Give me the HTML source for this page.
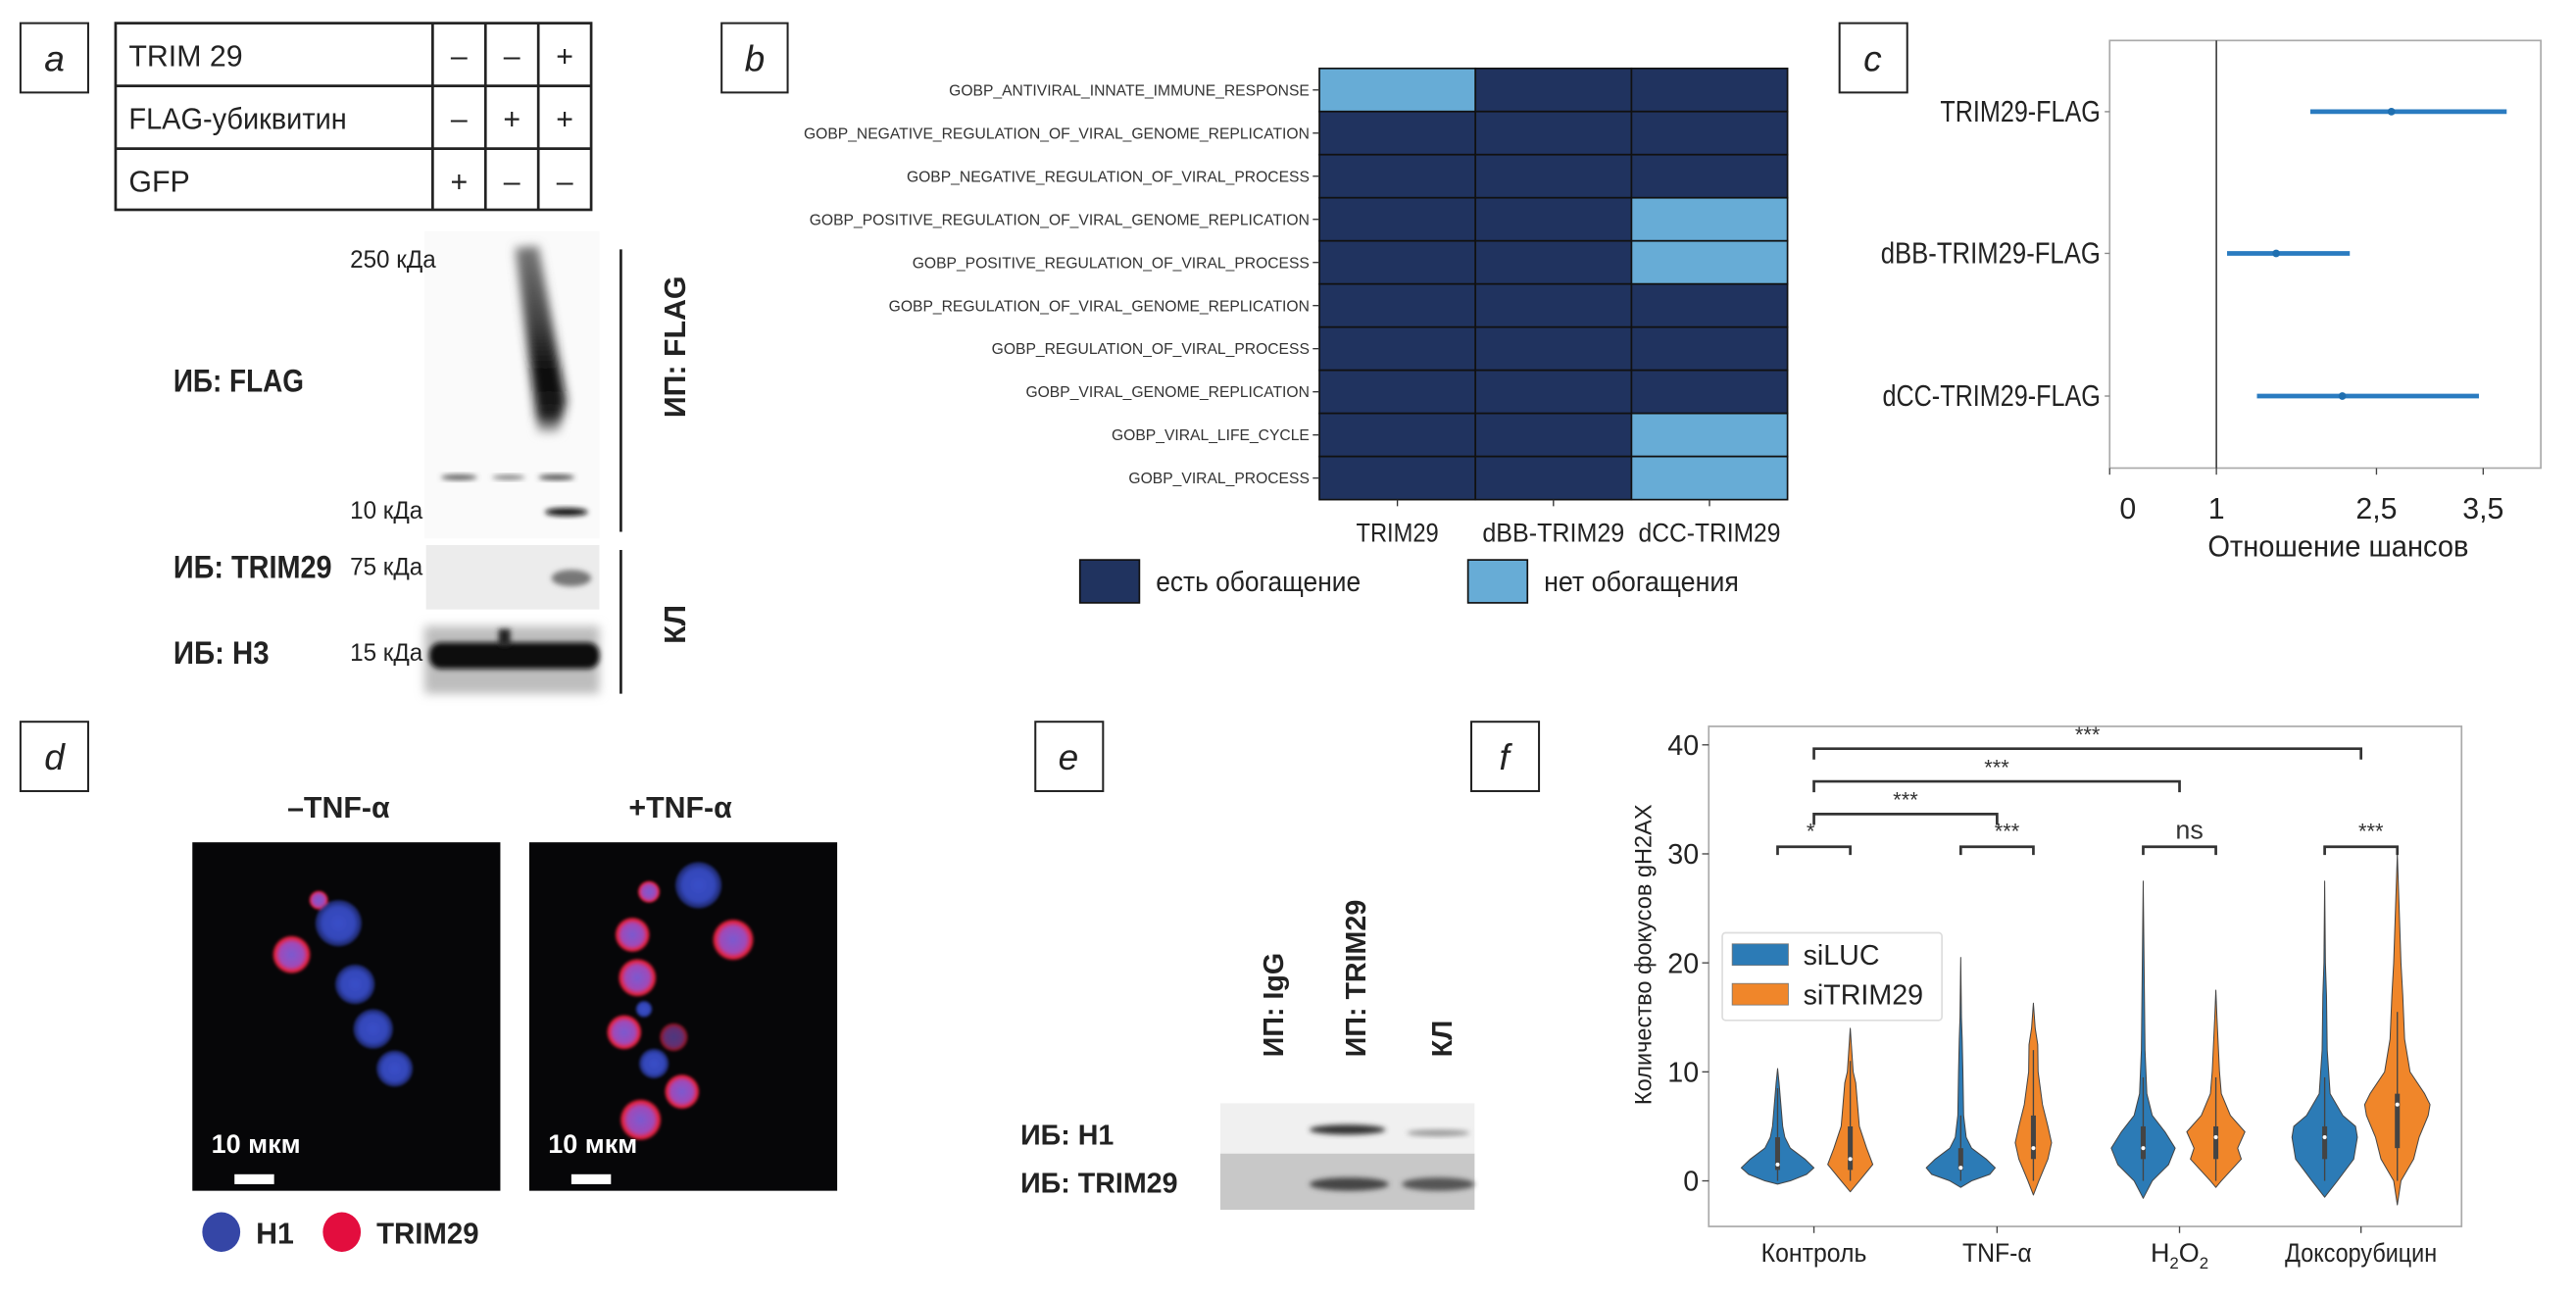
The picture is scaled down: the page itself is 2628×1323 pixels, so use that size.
<!DOCTYPE html>
<html><head><meta charset="utf-8"><style>
html,body{margin:0;padding:0;background:#fff;}
svg{display:block;font-family:"Liberation Sans","DejaVu Sans",sans-serif;}
.wide{font-family:"Liberation Sans","DejaVu Sans",sans-serif;}
</style></head><body>
<svg id="fig" width="2628" height="1323" viewBox="0 0 1560 785.3" xmlns="http://www.w3.org/2000/svg">
<defs>
<filter id="bl1" x="-50%" y="-50%" width="200%" height="200%"><feGaussianBlur stdDeviation="1.5"/></filter>
<filter id="bl2" x="-50%" y="-50%" width="200%" height="200%"><feGaussianBlur stdDeviation="3"/></filter>
<filter id="bl3" x="-50%" y="-50%" width="200%" height="200%"><feGaussianBlur stdDeviation="0.8"/></filter>
<radialGradient id="cellB"><stop offset="0" stop-color="#3a4fc8"/><stop offset="0.7" stop-color="#3346b8"/><stop offset="1" stop-color="#2a3aa0" stop-opacity="0.6"/></radialGradient>
<radialGradient id="cellR"><stop offset="0" stop-color="#7a5ad0"/><stop offset="0.6" stop-color="#a04ab8"/><stop offset="0.85" stop-color="#e8203a"/><stop offset="1" stop-color="#e8203a" stop-opacity="0"/></radialGradient>
<linearGradient id="smear" x1="0" y1="0" x2="0" y2="1"><stop offset="0" stop-color="#777"/><stop offset="0.4" stop-color="#444"/><stop offset="0.7" stop-color="#080808"/><stop offset="0.92" stop-color="#222"/><stop offset="1" stop-color="#ccc"/></linearGradient>
</defs>

<!-- Panel a -->
<g>
<rect x="12.4" y="14" width="41" height="42" fill="#fff" stroke="#222" stroke-width="1.2"/>
<text x="33" y="43" font-size="22" font-style="italic" text-anchor="middle" fill="#222">a</text>
<g stroke="#222" stroke-width="1.6" fill="none">
<rect x="70" y="14" width="288" height="113"/>
<line x1="70" y1="52" x2="358" y2="52"/><line x1="70" y1="90" x2="358" y2="90"/>
<line x1="262" y1="14" x2="262" y2="127"/><line x1="294" y1="14" x2="294" y2="127"/><line x1="326" y1="14" x2="326" y2="127"/>
</g>
<g font-size="18" fill="#222">
<text x="78" y="40">TRIM 29</text><text x="78" y="78" textLength="132" lengthAdjust="spacingAndGlyphs">FLAG-убиквитин</text><text x="78" y="116">GFP</text>
<g text-anchor="middle">
<text x="278" y="40">–</text><text x="310" y="40">–</text><text x="342" y="40">+</text>
<text x="278" y="78">–</text><text x="310" y="78">+</text><text x="342" y="78">+</text>
<text x="278" y="116">+</text><text x="310" y="116">–</text><text x="342" y="116">–</text>
</g></g>
<g>
<rect x="257" y="140" width="106" height="186" fill="#fafafa"/>
<polygon points="312,150 326,149 343,243 338,262 326,262" fill="url(#smear)" filter="url(#bl2)"/>
<ellipse cx="278" cy="289" rx="11" ry="1.6" fill="#555" filter="url(#bl1)"/>
<ellipse cx="308" cy="289" rx="10" ry="1.4" fill="#777" filter="url(#bl1)"/>
<ellipse cx="337" cy="289" rx="11" ry="1.6" fill="#444" filter="url(#bl1)"/>
<ellipse cx="343" cy="310" rx="13" ry="2.4" fill="#111" filter="url(#bl1)"/>
</g>
<g>
<rect x="258" y="330" width="105" height="39" fill="#ececec"/>
<ellipse cx="346" cy="350" rx="12" ry="5" fill="#777" filter="url(#bl1)"/>
</g>
<g>
<rect x="257" y="379" width="106" height="41" fill="#bdbdbd" filter="url(#bl2)"/>
<rect x="260" y="389" width="103" height="16" rx="7" fill="#080808" filter="url(#bl1)"/>
<rect x="302" y="381" width="7" height="10" fill="#222" filter="url(#bl1)"/>
</g>
<g font-size="15" fill="#222">
<text x="212" y="162" textLength="52" lengthAdjust="spacingAndGlyphs">250 кДа</text><text x="212" y="314" textLength="44" lengthAdjust="spacingAndGlyphs">10 кДа</text><text x="212" y="348" textLength="44" lengthAdjust="spacingAndGlyphs">75 кДа</text><text x="212" y="400" textLength="44" lengthAdjust="spacingAndGlyphs">15 кДа</text>
</g>
<g font-size="19" font-weight="bold" fill="#222">
<text x="105" y="237" textLength="79" lengthAdjust="spacingAndGlyphs">ИБ: FLAG</text><text x="105" y="350" textLength="96" lengthAdjust="spacingAndGlyphs">ИБ: TRIM29</text><text x="105" y="402" textLength="58" lengthAdjust="spacingAndGlyphs">ИБ: H3</text>
</g>
<line x1="376" y1="151" x2="376" y2="322" stroke="#222" stroke-width="1.6"/>
<line x1="376" y1="333" x2="376" y2="420" stroke="#222" stroke-width="1.6"/>
<text transform="translate(415,210) rotate(-90)" text-anchor="middle" font-size="18" font-weight="bold" fill="#222">ИП: FLAG</text>
<text transform="translate(415,378) rotate(-90)" text-anchor="middle" font-size="18" font-weight="bold" fill="#222">КЛ</text>
</g>

<!-- Panel b -->
<g id="panelB">
<rect x="437" y="14" width="40" height="42" fill="#fff" stroke="#222" stroke-width="1.2"/>
<text x="457" y="43" font-size="22" font-style="italic" text-anchor="middle" fill="#222">b</text>
</g>

<!-- Panel c -->
<g id="panelC">
<rect x="1114" y="14" width="41" height="42" fill="#fff" stroke="#222" stroke-width="1.2"/>
<text x="1134" y="43" font-size="22" font-style="italic" text-anchor="middle" fill="#222">c</text>
</g>

<!-- Panel d -->
<g>
<rect x="12.4" y="437" width="41" height="42" fill="#fff" stroke="#222" stroke-width="1.2"/>
<text x="33" y="466" font-size="22" font-style="italic" text-anchor="middle" fill="#222">d</text>
<text x="205" y="495" font-size="18" font-weight="bold" text-anchor="middle" fill="#222">–TNF-α</text>
<text x="412" y="495" font-size="18" font-weight="bold" text-anchor="middle" fill="#222">+TNF-α</text>
<g>
<rect x="116.5" y="510" width="186.5" height="211" fill="#060608"/>
<g filter="url(#bl3)">
<circle cx="176.6" cy="578" r="12" fill="url(#cellR)"/>
<circle cx="193" cy="545" r="6" fill="url(#cellR)"/>
<circle cx="205" cy="559" r="14" fill="url(#cellB)"/>
<circle cx="215" cy="596" r="12" fill="url(#cellB)"/>
<circle cx="226" cy="623" r="12" fill="url(#cellB)"/>
<circle cx="239" cy="647" r="11" fill="url(#cellB)"/>
</g>
<text x="128" y="698" font-size="16" font-weight="bold" fill="#fff" textLength="54" lengthAdjust="spacingAndGlyphs">10 мкм</text>
<rect x="142" y="711" width="24" height="6" fill="#fff"/>
</g>
<g>
<rect x="320.5" y="510" width="186.5" height="211" fill="#060608"/>
<g filter="url(#bl3)">
<circle cx="423" cy="536" r="14" fill="url(#cellB)"/>
<circle cx="393" cy="540" r="7" fill="url(#cellR)"/>
<circle cx="444" cy="569" r="13" fill="url(#cellR)"/>
<circle cx="383" cy="566" r="11" fill="url(#cellR)"/>
<circle cx="386" cy="592" r="12" fill="url(#cellR)"/>
<circle cx="390" cy="611" r="5" fill="url(#cellB)"/>
<circle cx="378" cy="625" r="11" fill="url(#cellR)"/>
<circle cx="408" cy="628" r="9" fill="url(#cellR)" opacity="0.6"/>
<circle cx="396" cy="644" r="9" fill="url(#cellB)"/>
<circle cx="413" cy="661" r="11" fill="url(#cellR)"/>
<circle cx="388" cy="678" r="13" fill="url(#cellR)"/>
</g>
<text x="332" y="698" font-size="16" font-weight="bold" fill="#fff" textLength="54" lengthAdjust="spacingAndGlyphs">10 мкм</text>
<rect x="346" y="711" width="24" height="6" fill="#fff"/>
</g>
<g>
<ellipse cx="134" cy="746" rx="11.5" ry="12" fill="#3546a6"/>
<text x="155" y="753" font-size="18" font-weight="bold" fill="#222">H1</text>
<ellipse cx="207" cy="746" rx="11.5" ry="12" fill="#e30d3e"/>
<text x="228" y="753" font-size="18" font-weight="bold" fill="#222" textLength="62" lengthAdjust="spacingAndGlyphs">TRIM29</text>
</g>
</g>

<!-- Panel e -->
<g>
<rect x="627" y="437" width="41" height="42" fill="#fff" stroke="#222" stroke-width="1.2"/>
<text x="647" y="466" font-size="22" font-style="italic" text-anchor="middle" fill="#222">e</text>
<g font-size="17" font-weight="bold" fill="#222">
<text transform="translate(777,640) rotate(-90)">ИП: IgG</text>
<text transform="translate(827,640) rotate(-90)">ИП: TRIM29</text>
<text transform="translate(879,640) rotate(-90)">КЛ</text>
<text x="618" y="693">ИБ: H1</text>
<text x="618" y="722">ИБ: TRIM29</text>
</g>
<g>
<rect x="739" y="668" width="154" height="31" fill="#f0f0f0"/>
<rect x="739" y="698.5" width="154" height="34" fill="#c8c8c8"/>
<ellipse cx="816" cy="684" rx="23" ry="3" fill="#333" filter="url(#bl1)"/>
<ellipse cx="871" cy="686" rx="19" ry="2" fill="#999" filter="url(#bl1)"/>
<ellipse cx="817" cy="717" rx="24" ry="4" fill="#444" filter="url(#bl1)"/>
<ellipse cx="871" cy="717" rx="22" ry="4" fill="#555" filter="url(#bl1)"/>
</g>
</g>

<!-- Panel f -->
<g id="panelF">
<rect x="891" y="437" width="41" height="42" fill="#fff" stroke="#222" stroke-width="1.2"/>
<text x="911" y="466" font-size="22" font-style="italic" text-anchor="middle" fill="#222">f</text>
</g>
</svg>

<script>
const NS='http://www.w3.org/2000/svg';
function mk(tag,attrs,parent,txt){const e=document.createElementNS(NS,tag);for(const k in attrs)e.setAttribute(k,attrs[k]);if(txt!==undefined)e.textContent=txt;parent.appendChild(e);return e;}

/* ---------- Panel b: heatmap ---------- */
const hmRows=['GOBP_ANTIVIRAL_INNATE_IMMUNE_RESPONSE','GOBP_NEGATIVE_REGULATION_OF_VIRAL_GENOME_REPLICATION','GOBP_NEGATIVE_REGULATION_OF_VIRAL_PROCESS','GOBP_POSITIVE_REGULATION_OF_VIRAL_GENOME_REPLICATION','GOBP_POSITIVE_REGULATION_OF_VIRAL_PROCESS','GOBP_REGULATION_OF_VIRAL_GENOME_REPLICATION','GOBP_REGULATION_OF_VIRAL_PROCESS','GOBP_VIRAL_GENOME_REPLICATION','GOBP_VIRAL_LIFE_CYCLE','GOBP_VIRAL_PROCESS'];
const hmCols=['TRIM29','dBB-TRIM29','dCC-TRIM29'];
const hmTRIM29=[0,1,1,1,1,1,1,1,1,1];
const hmDBB=[1,1,1,1,1,1,1,1,1,1];
const hmDCC=[1,1,1,0,0,1,1,1,0,0];
const hmLegend=['есть обогащение','нет обогащения'];
(function(){
const g=document.getElementById('panelB');
const X0=799,X1=1082.5,Y0=41.4,Y1=302.5;
const cw=(X1-X0)/hmCols.length, rh=(Y1-Y0)/hmRows.length;
const vals=[hmTRIM29,hmDBB,hmDCC];
const col=v=>v?'#20335f':'#67acd6';
for(let c=0;c<hmCols.length;c++)for(let r=0;r<hmRows.length;r++){
 const e=mk('rect',{x:X0+c*cw,y:Y0+r*rh,width:cw,height:rh,fill:col(vals[c][r]),stroke:'#111','stroke-width':1},g);
 
 
}
for(let r=0;r<hmRows.length;r++){
 const y=Y0+(r+0.5)*rh;
 mk('line',{x1:X0-4,x2:X0,y1:y,y2:y,stroke:'#333','stroke-width':0.8},g);
 const t=mk('text',{x:X0-6,y:y+3.3,'font-size':9.3,'text-anchor':'end',fill:'#333'},g,hmRows[r]);
 
 
}
for(let c=0;c<hmCols.length;c++){
 const x=X0+(c+0.5)*cw;
 mk('line',{x1:x,x2:x,y1:Y1,y2:Y1+4,stroke:'#333','stroke-width':0.8},g);
 const t=mk('text',{x:x,y:328,'font-size':16,'text-anchor':'middle',fill:'#222',textLength:c===0?50:86,lengthAdjust:'spacingAndGlyphs'},g,hmCols[c]);
 
 
}
const lx=[654,889];
const lw=[124,118];
for(let i=0;i<2;i++){
 const r=mk('rect',{x:lx[i],y:339,width:36,height:26,fill:col(i===0?1:0),stroke:'#111','stroke-width':1},g);
 
 
 const t=mk('text',{x:lx[i]+46,y:358,'font-size':17,fill:'#222',textLength:lw[i],lengthAdjust:'spacingAndGlyphs'},g,hmLegend[i]);
 
 
}
})();

/* ---------- Panel c: odds-ratio forest plot ---------- */
const orLabels=['TRIM29-FLAG','dBB-TRIM29-FLAG','dCC-TRIM29-FLAG'];
const orLow=[1.88,1.10,1.38];
const orPoint=[2.64,1.56,2.18];
const orHigh=[3.72,2.25,3.46];
const orTicks=[0,1,2.5,3.5];
const orTickLabels=['0','1','2,5','3,5'];
(function(){
const g=document.getElementById('panelC');
const L=1277.6,R=1538.7,T=24.5,B=283.4;
const xMin=0,xMax=4.04;
const X=v=>L+(v-xMin)/(xMax-xMin)*(R-L);
const rowY=[67.6,153.4,239.8];
const lw=[97,133,132];
const ax=mk('rect',{x:L,y:T,width:R-L,height:B-T,fill:'none',stroke:'#aaa','stroke-width':1},g);


const ref=mk('line',{x1:X(1),x2:X(1),y1:T,y2:B,stroke:'#444','stroke-width':1},g);


orTicks.forEach((v,i)=>{
 mk('line',{x1:X(v),x2:X(v),y1:B,y2:B+4,stroke:'#444','stroke-width':0.8},g);
 const t=mk('text',{x:X(v)+(i===0?11:0),y:314,'font-size':18,'text-anchor':'middle',fill:'#222'},g,orTickLabels[i]);
 
 
});
const xt=mk('text',{x:1416,y:337,'font-size':18,'text-anchor':'middle',fill:'#222',textLength:158,lengthAdjust:'spacingAndGlyphs'},g,'Отношение шансов');


orLabels.forEach((lab,i)=>{
 const y=rowY[i];
 mk('line',{x1:L-3,x2:L,y1:y,y2:y,stroke:'#888','stroke-width':0.8},g);
 const t=mk('text',{x:1272,y:y+6,'font-size':18,'text-anchor':'end',fill:'#222',textLength:lw[i],lengthAdjust:'spacingAndGlyphs'},g,lab);
 
 
 const ln=mk('line',{x1:X(orLow[i]),x2:X(orHigh[i]),y1:y,y2:y,stroke:'#2a7bc0','stroke-width':2.8},g);
 
 
 const p=mk('circle',{cx:X(orPoint[i]),cy:y,r:2.3,fill:'#1f6fb0'},g);
 
 
});
})();

/* ---------- Panel f: violin plot ---------- */
const vCategories=['Контроль','TNF-α','H2O2','Доксорубицин'];
const vSeries=['siLUC','siTRIM29'];
const vTicks=[0,10,20,30,40];
const vLUC=[
 [[-0.3,0],[0,0.35],[0.6,0.8],[1.2,1.0],[2,0.75],[3,0.35],[4,0.2],[5,0.14],[7,0.09],[9,0.04],[10.3,0]],
 [[-0.6,0],[0,0.3],[0.6,0.8],[1.2,0.95],[2,0.7],[3,0.3],[4,0.15],[6,0.08],[10,0.06],[13,0.04],[15,0.02],[20.5,0]],
 [[-1.6,0],[0,0.25],[1.5,0.7],[3,0.88],[4.5,0.6],[6,0.25],[8,0.1],[12,0.05],[18,0.03],[27.5,0]],
 [[-1.5,0],[0,0.35],[2,0.8],[4,0.9],[5,0.85],[6,0.5],[8,0.15],[12,0.07],[17,0.05],[20,0.02],[27.5,0]]
];
const vTRIM=[
 [[-1,0],[0,0.25],[1.5,0.62],[3,0.45],[5,0.25],[7,0.2],[9,0.15],[10,0.08],[14,0]],
 [[-1.3,0],[0,0.15],[2,0.4],[3.5,0.5],[5,0.4],[7,0.25],[10,0.13],[12.5,0.12],[14,0.05],[16.3,0]],
 [[-0.6,0],[0,0.15],[2,0.7],[3,0.6],[4.5,0.8],[6,0.4],[8,0.15],[10,0.1],[15,0.03],[17.5,0]],
 [[-2.2,0],[0,0.1],[2,0.45],[4,0.6],[6,0.85],[7,0.9],[8,0.75],[10,0.35],[13,0.2],[17,0.15],[20,0.1],[25,0.05],[30,0]]
];
const vLUCbox=[[1,1.5,4],[1,1.2,3],[2,3,5],[2,4,5]];
const vTRIMbox=[[1,2,5],[2,3,6],[2,4,5],[3,7,8]];
const vSig=['*','***','ns','***'];
const vLongSig=['***','***','***'];
(function(){
const g=document.getElementById('panelF');
const L=1034.8,R=1490.7,T=439.8,B=742.6;
const Y=v=>715-6.6*v;
const catX=[1098.5,1209.4,1319.9,1429.8];
const off=22, W=22;
const frame=mk('rect',{x:L,y:T,width:R-L,height:B-T,fill:'none',stroke:'#aaa','stroke-width':1},g);


vTicks.forEach(v=>{
 mk('line',{x1:L-4,x2:L,y1:Y(v),y2:Y(v),stroke:'#444','stroke-width':0.8},g);
 const t=mk('text',{x:L-6,y:Y(v)+6,'font-size':17,'text-anchor':'end',fill:'#222'},g,String(v));
 
 
});
const yt=mk('text',{transform:'translate(1000,578) rotate(-90)','font-size':14,'text-anchor':'middle',fill:'#222'},g,'Количество фокусов gH2AX');


const cw=[64,42,0,92];
vCategories.forEach((c,i)=>{
 mk('line',{x1:catX[i],x2:catX[i],y1:B,y2:B+4,stroke:'#444','stroke-width':0.8},g);
 let t;
 if(c==='H2O2'){
  t=mk('text',{x:catX[i],y:764,'font-size':16,'text-anchor':'middle',fill:'#222'},g);
  mk('tspan',{},t,'H');mk('tspan',{dy:4,'font-size':10},t,'2');mk('tspan',{dy:-4},t,'O');mk('tspan',{dy:4,'font-size':10},t,'2');
 } else t=mk('text',{x:catX[i],y:764,'font-size':16,'text-anchor':'middle',fill:'#222',textLength:cw[i],lengthAdjust:'spacingAndGlyphs'},g,c);
 
 
});
function violin(cx,prof,box,color,name){
 let right=prof.map(p=>[cx+p[1]*W,Y(p[0])]);
 let left=prof.slice().reverse().map(p=>[cx-p[1]*W,Y(p[0])]);
 const pts=right.concat(left);
 let d='M'+pts.map(p=>p[0].toFixed(2)+','+p[1].toFixed(2)).join(' L')+' Z';
 const pth=mk('path',{d:d,fill:color,stroke:'#444','stroke-width':0.6,'stroke-linejoin':'round'},g);
 
 
 const lo=prof[0][0]+0.3;
 mk('line',{x1:cx,x2:cx,y1:Y(Math.max(lo,0)),y2:Y(box[2]+(box[2]-box[0])*1.5),stroke:'#444','stroke-width':0.8},g);
 mk('line',{x1:cx,x2:cx,y1:Y(box[0]),y2:Y(box[2]),stroke:'#444','stroke-width':3},g);
 mk('circle',{cx:cx,cy:Y(box[1]),r:1.2,fill:'#fff'},g);
}
vCategories.forEach((c,i)=>{
 violin(catX[i]-off,vLUC[i],vLUCbox[i],'#2c7bb6','violin-siluc');
 violin(catX[i]+off,vTRIM[i],vTRIMbox[i],'#f0862a','violin-sitrim29');
 const bx=mk('path',{d:`M${catX[i]-off},${Y(29.9)} V${Y(30.65)} H${catX[i]+off} V${Y(29.9)}`,fill:'none',stroke:'#333','stroke-width':1.6},g);
 
 
 const st=mk('text',{x:i===0?catX[i]-2:catX[i]+6,y:Y(31.4),'font-size':i===2?16:13,'text-anchor':'middle',fill:'#333'},g,vSig[i]);
 
 
});
const longLevels=[33.65,36.65,39.65];
for(let k=0;k<3;k++){
 const x2=catX[k+1], yv=longLevels[k];
 const bx=mk('path',{d:`M${catX[0]},${Y(yv-1)} V${Y(yv)} H${x2} V${Y(yv-1)}`,fill:'none',stroke:'#333','stroke-width':1.6},g);
 
 
 const st=mk('text',{x:(catX[0]+x2)/2,y:Y(yv+0.6),'font-size':13,'text-anchor':'middle',fill:'#333'},g,vLongSig[k]);
 
 
}
const lg=mk('rect',{x:1043,y:564.8,width:133,height:53,fill:'#fff',stroke:'#ddd','stroke-width':1,rx:2},g);


const lc=['#2c7bb6','#f0862a'], ly=[578,602];
vSeries.forEach((s,i)=>{
 const r=mk('rect',{x:1049,y:ly[i]-6.5,width:34,height:13,fill:lc[i],stroke:'#777','stroke-width':0.5},g);
 
 
 const t=mk('text',{x:1092,y:ly[i]+6,'font-size':17,fill:'#222'},g,s);
 
 
});
})();
</script>
</body></html>
